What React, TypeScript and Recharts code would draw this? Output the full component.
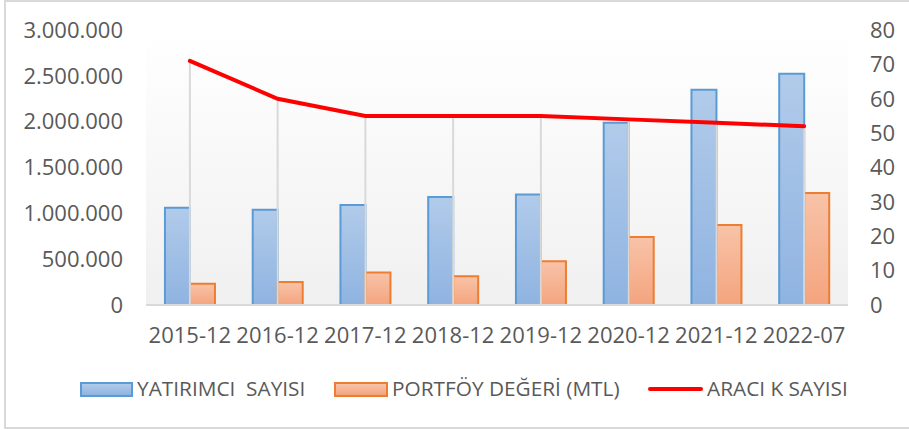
import React from 'react';
import {
  ComposedChart,
  Bar,
  Line,
  XAxis,
  YAxis,
  CartesianGrid,
  ErrorBar
} from 'recharts';

const periods = ['2015-12', '2016-12', '2017-12', '2018-12', '2019-12', '2020-12', '2021-12', '2022-07'];
const yatirimci = [1062000, 1040000, 1090000, 1177000, 1206000, 1989000, 2348000, 2522000];
const portfoy = [231000, 250000, 355000, 315000, 478000, 742000, 873000, 1221000];
const araci = [71, 60, 55, 55, 55, 54, 53, 52];

const leftTicks = [0, 500000, 1000000, 1500000, 2000000, 2500000, 3000000];
const rightTicks = [0, 10, 20, 30, 40, 50, 60, 70, 80];

const data = periods.map((p, i) => ({
  period: p,
  yatirimci: yatirimci[i],
  portfoy: portfoy[i],
  araci: araci[i]
}));

const FONT = "'Open Sans', sans-serif";
const TEXT = '#595959';

// 1500000 -> "1.500.000"
const fmt = (v: number) => String(v).replace(/\B(?=(\d{3})+(?!\d))/g, '.');

const App: React.FC = () => {
  const tick = { fill: TEXT, fontSize: 22, fontFamily: FONT };
  const legendText: React.CSSProperties = {
    position: 'absolute',
    top: 374,
    fontFamily: FONT,
    fontSize: 20.8,
    color: TEXT,
    whiteSpace: 'pre',
    lineHeight: '28px'
  };

  return (
    <div style={{ position: 'absolute', left: 0, top: 0, width: 909, height: 430, background: '#fff', overflow: 'hidden' }}>
      <div
        style={{
          position: 'absolute',
          left: 4,
          top: 0,
          width: 920,
          height: 425,
          border: '2px solid #d9d9d9'
        }}
      />
      <div style={{ position: 'absolute', left: 0, top: 0 }}>
        <ComposedChart
          width={909}
          height={430}
          data={data}
          margin={{ top: 30, right: 0, bottom: 0, left: 0 }}
          barCategoryGap="21.6%"
          barGap={0}
        >
          <defs>
            <linearGradient id="plotBg" x1="0" y1="0" x2="0" y2="1">
              <stop offset="0%" stopColor="#ffffff" />
              <stop offset="100%" stopColor="#f0f0f0" />
            </linearGradient>
            <linearGradient id="blueFill" x1="0" y1="0" x2="0" y2="1">
              <stop offset="0%" stopColor="#b1cbea" />
              <stop offset="100%" stopColor="#8fb3e1" />
            </linearGradient>
            <linearGradient id="orangeFill" x1="0" y1="0" x2="0" y2="1">
              <stop offset="0%" stopColor="#f8c3a8" />
              <stop offset="100%" stopColor="#f4a47e" />
            </linearGradient>
          </defs>
          <CartesianGrid horizontal={false} vertical={false} fill="url(#plotBg)" />
          <XAxis
            dataKey="period"
            height={125}
            tick={tick}
            tickLine={false}
            tickSize={0}
            tickMargin={22}
            axisLine={{ stroke: '#d9d9d9', strokeWidth: 2 }}
            interval={0}
          />
          <YAxis
            yAxisId="left"
            width={146}
            domain={[0, 3000000]}
            ticks={leftTicks}
            tickFormatter={fmt}
            tick={tick}
            tickLine={false}
            axisLine={false}
            tickSize={0}
            tickMargin={23}
          />
          <YAxis
            yAxisId="right"
            orientation="right"
            width={61}
            domain={[0, 80]}
            ticks={rightTicks}
            tick={{ ...tick, textAnchor: 'start' }}
            tickLine={false}
            axisLine={false}
            tickSize={0}
            tickMargin={22}
          />
          {/* drop lines from the line points down to the axis */}
          <Line
            yAxisId="right"
            dataKey="araci"
            stroke="none"
            dot={false}
            legendType="none"
            isAnimationActive={false}
          >
            <ErrorBar
              dataKey={(d: { araci: number }) => [d.araci, 0]}
              width={0}
              stroke="#d9d9d9"
              strokeWidth={2}
              direction="y"
              isAnimationActive={false}
            />
          </Line>
          <Bar
            yAxisId="left"
            dataKey="yatirimci"
            name="YATIRIMCI  SAYISI"
            fill="url(#blueFill)"
            stroke="#5b9bd5"
            strokeWidth={2}
            isAnimationActive={false}
          />
          <Bar
            yAxisId="left"
            dataKey="portfoy"
            name="PORTFÖY DEĞERİ (MTL)"
            fill="url(#orangeFill)"
            stroke="#ed7d31"
            strokeWidth={2}
            isAnimationActive={false}
          />
          <Line
            yAxisId="right"
            type="linear"
            dataKey="araci"
            name="ARACI K SAYISI"
            stroke="#ff0000"
            strokeWidth={4}
            strokeLinecap="round"
            dot={false}
            activeDot={false}
            isAnimationActive={false}
          />
        </ComposedChart>
      </div>

      {/* legend */}
      <div
        style={{
          position: 'absolute',
          left: 80,
          top: 382,
          width: 49,
          height: 11,
          border: '2px solid #5b9bd5',
          background: 'linear-gradient(#b1cbea, #8fb3e1)'
        }}
      />
      <div style={{ ...legendText, left: 137 }}>YATIRIMCI  SAYISI</div>
      <div
        style={{
          position: 'absolute',
          left: 334,
          top: 382,
          width: 50,
          height: 11,
          border: '2px solid #ed7d31',
          background: 'linear-gradient(#f8c3a8, #f4a47e)'
        }}
      />
      <div style={{ ...legendText, left: 392 }}>PORTFÖY DEĞERİ (MTL)</div>
      <div
        style={{
          position: 'absolute',
          left: 648,
          top: 387,
          width: 55,
          height: 4,
          borderRadius: 2,
          background: '#ff0000'
        }}
      />
      <div style={{ ...legendText, left: 707 }}>ARACI K SAYISI</div>
    </div>
  );
};

export default App;
